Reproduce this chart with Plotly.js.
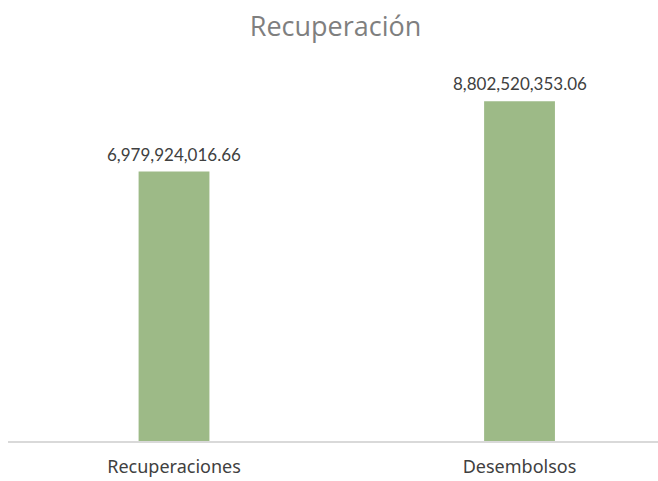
<!DOCTYPE html>
<html>
<head>
<meta charset="utf-8">
<script src="https://cdn.plot.ly/plotly-3.0.1.min.js"></script>
<style>html,body{margin:0;padding:0;background:#fff;}#chart{width:658px;height:481px;}</style>
</head>
<body>
<div id="chart"></div>
<script>
const categories = ["Recuperaciones", "Desembolsos"];
const values = [6979924016.66, 8802520353.06];
const labels = ["6,979,924,016.66", "8,802,520,353.06"];

const trace = {
  type: "bar",
  x: categories,
  y: values,
  width: 0.205,
  marker: {color: "#9DBA87"},
  hoverinfo: "none"
};

const annotations = categories.map((c, i) => ({
  x: c, y: values[i], xref: "x", yref: "y",
  text: labels[i], showarrow: false,
  yanchor: "bottom", yshift: 5,
  font: {family: "Lato, 'Open Sans', sans-serif", size: 17, color: "#404040"}
}));

const layout = {
  width: 658, height: 481,
  margin: {l: 8, r: 0, t: 55, b: 40},
  paper_bgcolor: "#ffffff", plot_bgcolor: "#ffffff",
  title: {
    text: "Recuperación",
    font: {family: "'Open Sans', sans-serif", size: 27, color: "#7F7F7F"},
    x: 0.51, xanchor: "center", y: 0.945, yanchor: "middle", yref: "container"
  },
  xaxis: {
    type: "category",
    range: [-0.4805, 1.4008],
    showline: true, linecolor: "#D9D9D9", linewidth: 2,
    ticks: "", showgrid: false, zeroline: false,
    tickfont: {family: "'Noto Sans', sans-serif", size: 18, color: "#404040"},
    ticklabelstandoff: 8
  },
  yaxis: {
    range: [0, 1e10],
    visible: false, showgrid: false, zeroline: false
  },
  annotations: annotations,
  showlegend: false
};

Plotly.newPlot("chart", [trace], layout, {displayModeBar: false, staticPlot: true});
</script>
</body>
</html>
